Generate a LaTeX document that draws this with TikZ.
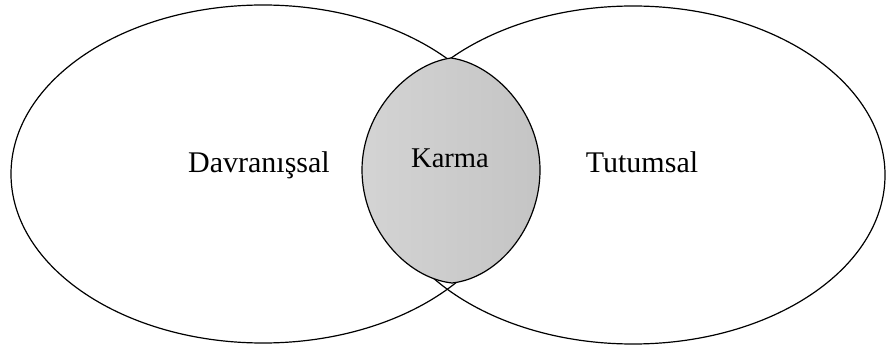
\documentclass[tikz,border=0pt]{standalone}
\usepackage{fontspec}
\setmainfont{Liberation Serif}
\usetikzlibrary{shapes.geometric}
\tikzset{
  kume/.style={draw, ellipse, line width=0.6pt, inner sep=0pt, minimum width=252pt, minimum height=169pt},
  etiket/.style={anchor=base, inner sep=0pt, font=\fontsize{15}{18}\selectfont}
}
\begin{document}
\begin{tikzpicture}[x=0.5pt,y=-0.5pt]
\useasboundingbox (0,0) rectangle (887,347);
\node [kume] (davr) at (263,174) {};
\node [kume] (tutum) at (633,175) {};
\draw[line width=0.6pt, left color=black!17, right color=black!23]
  (451,58) .. controls (408,64) and (362,112) .. (362,170)
  .. controls (362,228) and (406,278) .. (452,283)
  .. controls (498,278) and (540,228) .. (540,170)
  .. controls (540,112) and (494,64) .. (451,58) -- cycle;
\node [etiket] (davrlbl) at (259,173) {Davranışsal};
\node [etiket, font=\fontsize{14.3}{17}\selectfont] (karma) at (450,168) {Karma};
\node [etiket] (tutumlbl) at (642,173) {Tutumsal};
\end{tikzpicture}
\end{document}
